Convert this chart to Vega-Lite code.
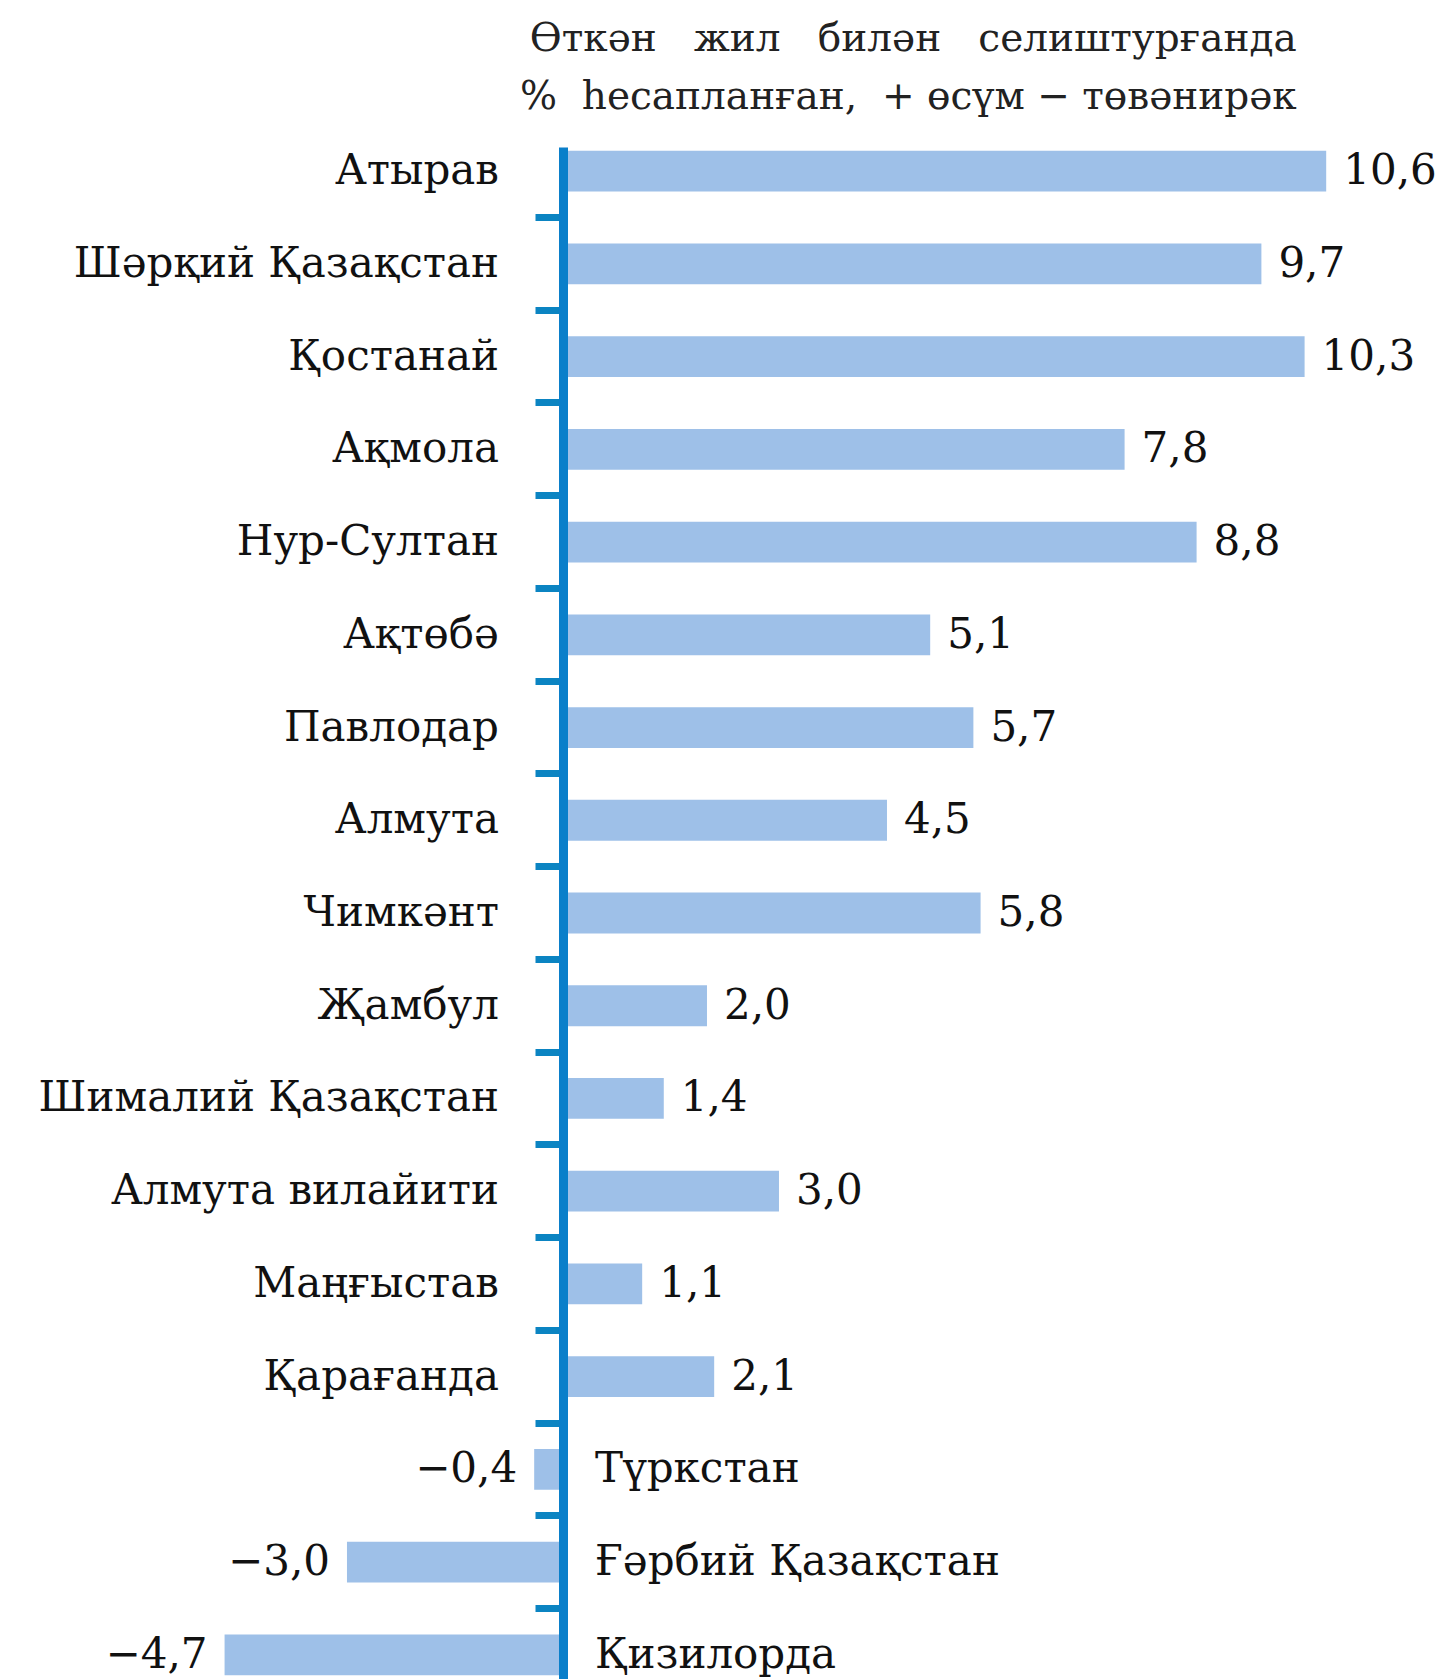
{
  "$schema": "https://vega.github.io/schema/vega-lite/v6.json",
  "width": 1436,
  "height": 1532,
  "autosize": {"type": "none"},
  "padding": {"top": 147, "left": 0, "right": 0, "bottom": 0},
  "background": "#ffffff",
  "title": {
    "text": ["Өткән \u00a0\u00a0жил \u00a0\u00a0билән \u00a0\u00a0селиштурғанда", "% \u00a0һесапланған, \u00a0+ өсүм − төвәнирәк"],
    "anchor": "end",
    "dx": -140,
    "offset": 30,
    "font": "DejaVu Serif",
    "fontSize": 39,
    "fontWeight": "normal",
    "color": "#222222",
    "lineHeight": 58
  },
  "config": {
    "view": {"stroke": null},
    "locale": {"number": {"decimal": ",", "thousands": " ", "grouping": [3], "currency": ["", ""], "minus": "−"}},
    "text": {"font": "DejaVu Serif", "fontSize": 42, "color": "#111111", "baseline": "middle"}
  },
  "data": {
    "values": [
      {"region": "Атырав", "value": 10.6},
      {"region": "Шәрқий Қазақстан", "value": 9.7},
      {"region": "Қостанай", "value": 10.3},
      {"region": "Ақмола", "value": 7.8},
      {"region": "Нур-Султан", "value": 8.8},
      {"region": "Ақтөбә", "value": 5.1},
      {"region": "Павлодар", "value": 5.7},
      {"region": "Алмута", "value": 4.5},
      {"region": "Чимкәнт", "value": 5.8},
      {"region": "Җамбул", "value": 2.0},
      {"region": "Шималий Қазақстан", "value": 1.4},
      {"region": "Алмута вилайити", "value": 3.0},
      {"region": "Маңғыстав", "value": 1.1},
      {"region": "Қарағанда", "value": 2.1},
      {"region": "Түркстан", "value": -0.4},
      {"region": "Ғәрбий Қазақстан", "value": -3.0},
      {"region": "Қизилорда", "value": -4.7}
    ]
  },
  "encoding": {
    "y": {
      "field": "region",
      "type": "nominal",
      "sort": null,
      "scale": {"paddingInner": 0.56, "paddingOuter": 0.04},
      "axis": {
        "title": null,
        "labels": false,
        "orient": "left",
        "offset": -563,
        "domain": true,
        "domainColor": "#0a7fca",
        "domainWidth": 9,
        "ticks": true,
        "tickSize": 28,
        "tickWidth": 7,
        "tickColor": "#0b84c2",
        "bandPosition": 1.637,
        "grid": false,
        "zindex": 1
      }
    }
  },
  "layer": [
    {
      "mark": {"type": "bar", "color": "#9ec0e8"},
      "encoding": {
        "x": {
          "field": "value",
          "type": "quantitative",
          "scale": {"domain": [-7.819, 12.125], "nice": false, "zero": false},
          "axis": null
        }
      }
    },
    {
      "transform": [{"filter": "datum.value >= 0"}],
      "mark": {"type": "text", "align": "right", "dx": -64},
      "encoding": {
        "x": {"datum": 0, "type": "quantitative"},
        "text": {"field": "region"}
      }
    },
    {
      "transform": [{"filter": "datum.value < 0"}],
      "mark": {"type": "text", "align": "left", "dx": 32},
      "encoding": {
        "x": {"datum": 0, "type": "quantitative"},
        "text": {"field": "region"}
      }
    },
    {
      "transform": [{"filter": "datum.value >= 0"}],
      "mark": {"type": "text", "align": "left", "dx": 17},
      "encoding": {
        "x": {"field": "value", "type": "quantitative"},
        "text": {"field": "value", "type": "quantitative", "format": ".1f"}
      }
    },
    {
      "transform": [{"filter": "datum.value < 0"}],
      "mark": {"type": "text", "align": "right", "dx": -17},
      "encoding": {
        "x": {"field": "value", "type": "quantitative"},
        "text": {"field": "value", "type": "quantitative", "format": ".1f"}
      }
    }
  ]
}
